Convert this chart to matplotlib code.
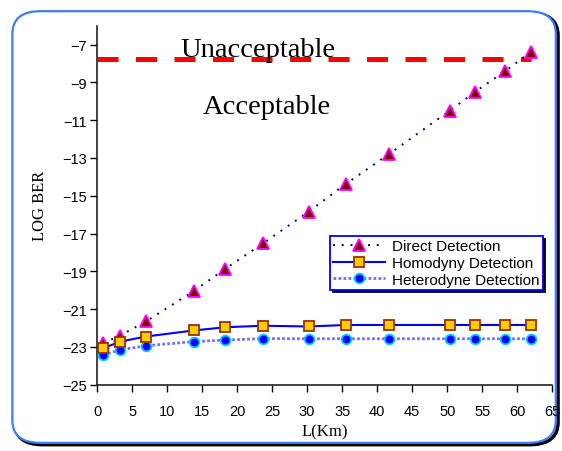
import matplotlib
matplotlib.use('Agg')
import matplotlib.pyplot as plt
from matplotlib.patches import FancyBboxPatch

# fiber length (km) and log BER
length_km = [0.9, 3.3, 7.0, 13.8, 18.3, 23.7, 30.2, 35.5, 41.7, 50.4, 54.0, 58.3, 61.9]
direct = [-22.8, -22.4, -21.65, -20.05, -18.87, -17.52, -15.85, -14.38, -12.79,
          -10.49, -9.49, -8.40, -7.40]
homodyne = [-23.07, -22.72, -22.45, -22.13, -21.96, -21.88, -21.92, -21.84, -21.84,
            -21.84, -21.84, -21.84, -21.84]
heterodyne = [-23.41, -23.16, -22.94, -22.72, -22.64, -22.56, -22.57, -22.57, -22.57,
              -22.57, -22.57, -22.57, -22.57]
threshold = -7.77
threshold_span = [0, 62]

series_labels = ['Direct Detection', 'Homodyny Detection', 'Heterodyne Detection']
xticks = list(range(0, 66, 5))
yticks = list(range(-25, -6, 2))

fig = plt.figure(figsize=(5.62, 4.52), dpi=100)

#rounded frame with shadow around the whole chart
shadow = FancyBboxPatch((0.026, 0.014), 0.967, 0.955, boxstyle='round,pad=0,rounding_size=0.05',
                        transform=fig.transFigure, facecolor='none', edgecolor='black', lw=2.5, zorder=-3)
frame = FancyBboxPatch((0.022, 0.018), 0.967, 0.955, boxstyle='round,pad=0,rounding_size=0.05',
                       transform=fig.transFigure, facecolor='white', edgecolor='#3f7cf0', lw=1.6, zorder=-2)
fig.patches.extend([shadow, frame])

ax = fig.add_axes([0.1726, 0.1467, 0.8102, 0.7943])
ax.patch.set_alpha(0)

ax.plot(threshold_span, [threshold, threshold], color='#ff0000', lw=3.6,
        linestyle=(0, (4.2, 3.5)), solid_capstyle='butt', zorder=2)

ax.plot(length_km, direct, color='#000080', lw=1.4, linestyle=(0, (1, 3.5)),
        marker='^', markersize=8, markerfacecolor='#800000', markeredgecolor='#ff00ff',
        markeredgewidth=1.3, label=series_labels[0], zorder=4)
ax.plot(length_km, homodyne, color='#0000ff', lw=1.5, linestyle='-',
        marker='s', markersize=7.5, markerfacecolor='#ffcc00', markeredgecolor='#993300',
        markeredgewidth=1.3, label=series_labels[1], zorder=4)
ax.plot(length_km, heterodyne, color='#7070ff', lw=2.0, linestyle=(0, (1, 0.8)),
        marker='o', markersize=7, markerfacecolor='#0000ff', markeredgecolor='#00ccff',
        markeredgewidth=1.3, label=series_labels[2], zorder=3)

ax.text(22.9, -7.27, 'Unacceptable', family='Liberation Serif', fontsize=20.5,
        ha='center', va='center')
ax.text(24.3, -10.27, 'Acceptable', family='Liberation Serif', fontsize=20.5,
        ha='center', va='center')

ax.set_xlim(0, 65)
ax.set_ylim(-25, -6)
ax.set_xticks(xticks)
ax.set_yticks(yticks)
ax.tick_params(direction='out', length=5, width=1, labelsize=10.5, colors='black')
ax.tick_params(axis='x', pad=9)
ax.tick_params(axis='y', pad=2.5)
for lab in ax.get_xticklabels() + ax.get_yticklabels():
        lab.set_family('Liberation Sans')
for side in ['top', 'right']:
        ax.spines[side].set_visible(False)
for side in ['left', 'bottom']:
        ax.spines[side].set_linewidth(1.2)
        ax.spines[side].set_color('#222222')

ax.set_xlabel('L(Km)', family='Liberation Serif', fontsize=12, labelpad=4)
ax.set_ylabel('LOG BER', family='Liberation Serif', fontsize=12, labelpad=10)

leg = ax.legend(loc='upper left', bbox_to_anchor=(0.512, 0.414), frameon=True, fancybox=False,
                shadow={'color': 'black', 'alpha': 1}, prop={'family': 'Liberation Sans', 'size': 11},
                handlelength=3.4, handletextpad=0.45, borderpad=0.2, labelspacing=0.18,
                borderaxespad=0, numpoints=1)
leg.get_frame().set_edgecolor('#0000ff')
leg.get_frame().set_linewidth(1.3)

fig.savefig('out.png', dpi=100)
